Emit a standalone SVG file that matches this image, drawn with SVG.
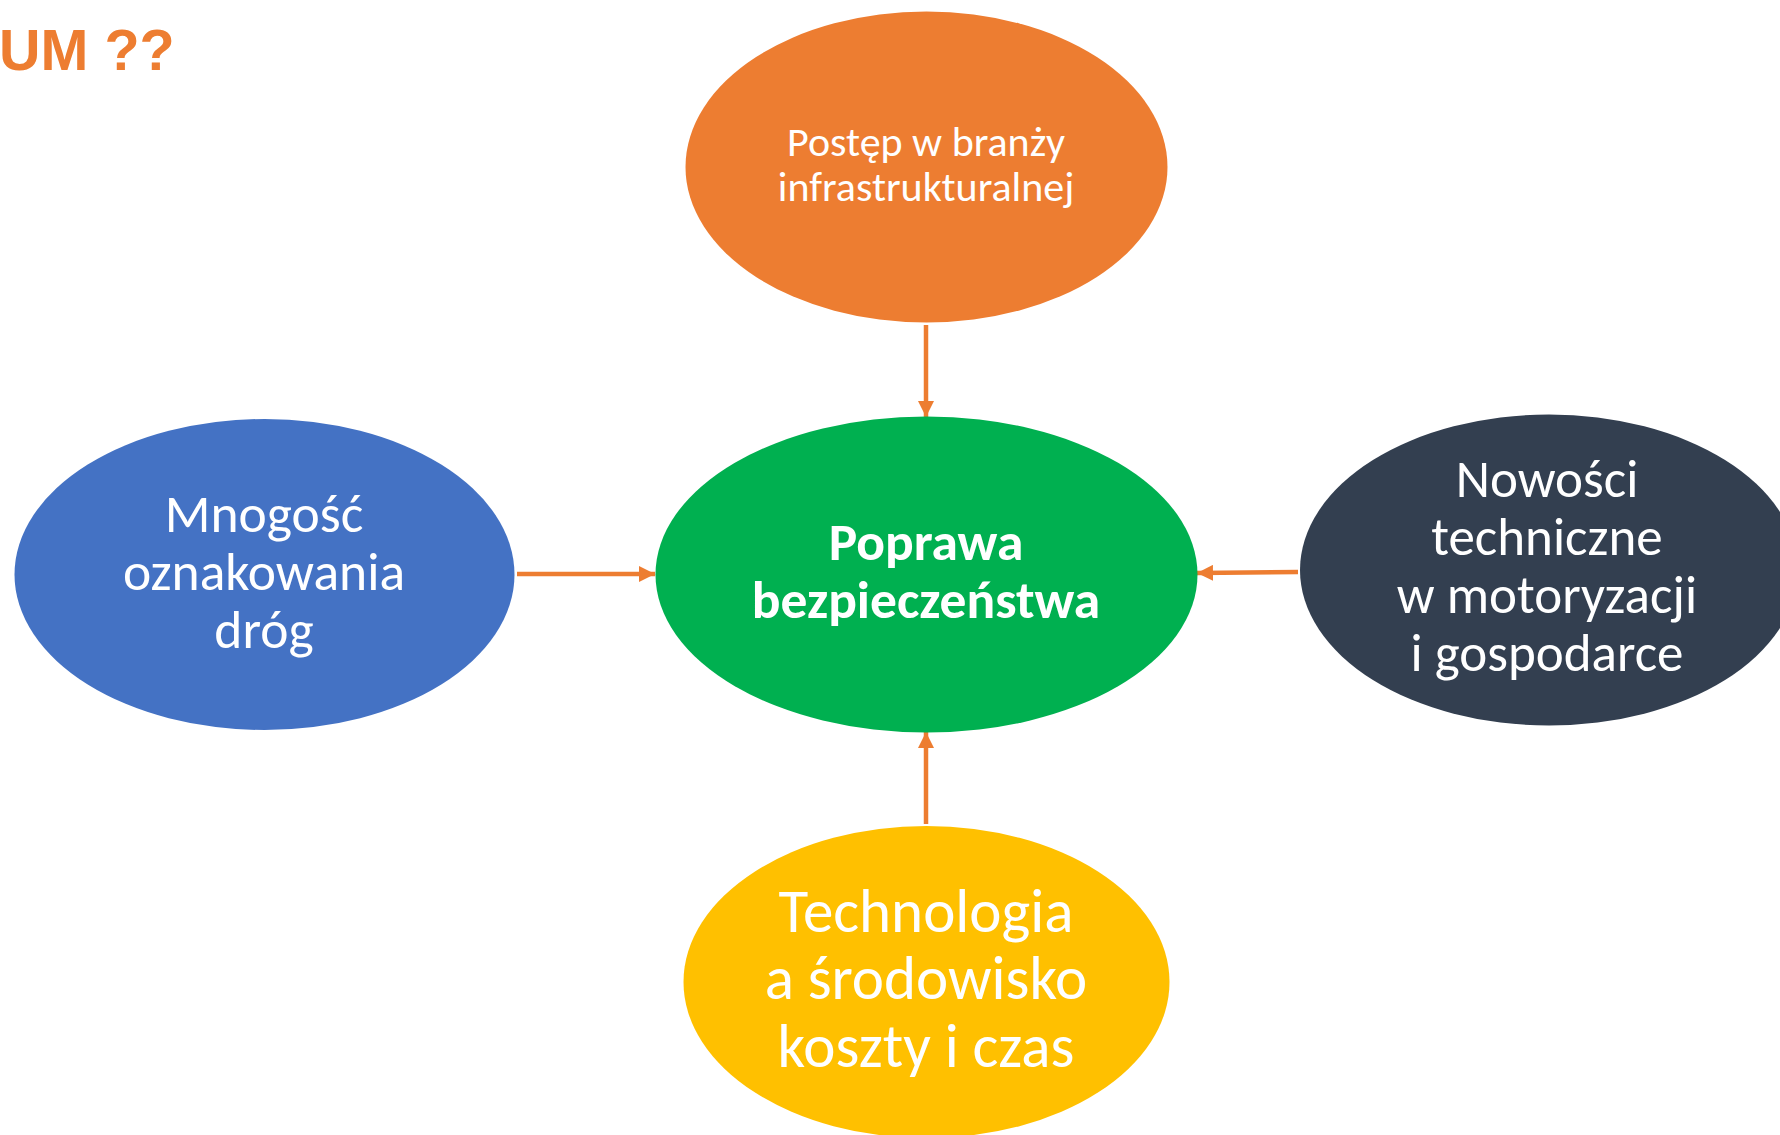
<svg xmlns="http://www.w3.org/2000/svg" width="1780" height="1135" viewBox="0 0 1780 1135">
<defs>
<style>
.lbl{font-family:Carlito,Lato,"Liberation Sans",sans-serif;fill:#ffffff;text-anchor:middle}
.title{font-family:"Liberation Sans",Arial,sans-serif;font-weight:bold;fill:#ED7D31}
.conn{stroke:#ED7D31;stroke-width:4.5;fill:none;marker-end:url(#arr)}
</style>
<marker id="arr" markerUnits="userSpaceOnUse" markerWidth="16" markerHeight="16" viewBox="0 0 16 16" refX="16" refY="8" orient="auto">
<path d="M0,0 L16,8 L0,16 Z" fill="#ED7D31"/>
</marker>
</defs>
<rect width="1780" height="1135" fill="#ffffff"/>
<text class="title" x="-1" y="70" font-size="57.5">UM ??</text>
<g id="connectors">
<line class="conn" x1="926" y1="325" x2="926" y2="417"/>
<line class="conn" x1="926" y1="824" x2="926" y2="732"/>
<line class="conn" x1="517" y1="574" x2="655" y2="574"/>
<line class="conn" x1="1298" y1="572" x2="1197" y2="573"/>
</g>
<g id="node-top">
<ellipse cx="926.5" cy="167" rx="241" ry="155.5" fill="#ED7D31"/>
<text class="lbl" font-size="42"><tspan x="926" y="156">Postęp w branży</tspan><tspan x="926" y="201">infrastrukturalnej</tspan></text>
</g>
<g id="node-center">
<ellipse cx="926.5" cy="574.5" rx="271" ry="158" fill="#00B050"/>
<text class="lbl" font-size="53.5" font-weight="bold"><tspan x="926" y="560">Poprawa</tspan><tspan x="926" y="618">bezpieczeństwa</tspan></text>
</g>
<g id="node-left">
<ellipse cx="264.5" cy="574.5" rx="250" ry="155.5" fill="#4472C4"/>
<text class="lbl" font-size="53.5"><tspan x="264" y="532">Mnogość</tspan><tspan x="264" y="590">oznakowania</tspan><tspan x="264" y="648">dróg</tspan></text>
</g>
<g id="node-right">
<ellipse cx="1549" cy="570" rx="249" ry="155.5" fill="#333F50"/>
<text class="lbl" font-size="53"><tspan x="1547" y="497">Nowości</tspan><tspan x="1547" y="555">techniczne</tspan><tspan x="1547" y="613">w motoryzacji</tspan><tspan x="1547" y="671">i gospodarce</tspan></text>
</g>
<g id="node-bottom">
<ellipse cx="926.5" cy="982" rx="243" ry="156" fill="#FFC000"/>
<text class="lbl" font-size="61"><tspan x="926" y="932">Technologia</tspan><tspan x="926" y="999">a środowisko</tspan><tspan x="926" y="1067">koszty i czas</tspan></text>
</g>
</svg>
